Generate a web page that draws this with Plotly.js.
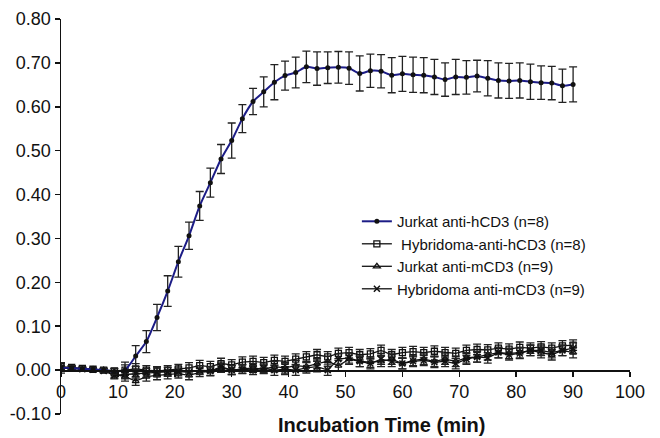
<!DOCTYPE html>
<html>
<head>
<meta charset="utf-8">
<script src="https://cdn.plot.ly/plotly-3.0.1.min.js"></script>
<style>html,body{margin:0;padding:0;background:#fff;}#chart{width:660px;height:438px;}</style>
</head>
<body>
<div id="chart"></div>
<script>
// time points (min), every 1.875 min from 0 to 90
const time = [0,1.875,3.75,5.625,7.5,9.375,11.25,13.125,15,16.875,18.75,20.625,22.5,24.375,26.25,28.125,30,31.875,33.75,35.625,37.5,39.375,41.25,43.125,45,46.875,48.75,50.625,52.5,54.375,56.25,58.125,60,61.875,63.75,65.625,67.5,69.375,71.25,73.125,75,76.875,78.75,80.625,82.5,84.375,86.25,88.125,90];

const seriesNames = ["Jurkat anti-hCD3 (n=8)", " Hybridoma-anti-hCD3 (n=8)", "Jurkat anti-mCD3 (n=9)", "Hybridoma anti-mCD3 (n=9)"];

const jurkatH = [0.005,0.005,0.003,0.002,0.000,-0.003,0.000,0.032,0.065,0.120,0.180,0.247,0.306,0.374,0.427,0.481,0.523,0.573,0.612,0.634,0.656,0.671,0.678,0.691,0.687,0.689,0.690,0.688,0.676,0.682,0.681,0.672,0.675,0.673,0.672,0.668,0.662,0.668,0.667,0.670,0.665,0.660,0.659,0.660,0.657,0.655,0.654,0.648,0.651];
const jurkatHErr = [0.012,0.005,0.004,0.004,0.004,0.006,0.018,0.024,0.025,0.030,0.035,0.035,0.031,0.033,0.033,0.033,0.040,0.032,0.030,0.034,0.040,0.033,0.035,0.036,0.038,0.036,0.036,0.037,0.040,0.038,0.038,0.040,0.040,0.040,0.040,0.040,0.038,0.040,0.038,0.036,0.040,0.040,0.040,0.040,0.040,0.038,0.038,0.038,0.040];

const hybH = [0.008,0.006,0.004,0.002,0.000,-0.002,0.000,0.003,0.000,-0.002,0.000,0.003,0.005,0.010,0.008,0.015,0.012,0.018,0.020,0.017,0.022,0.020,0.025,0.030,0.035,0.030,0.038,0.040,0.035,0.037,0.045,0.035,0.040,0.042,0.040,0.043,0.040,0.038,0.045,0.047,0.046,0.050,0.048,0.052,0.050,0.053,0.050,0.055,0.057];
const hybHErr = [0.006,0.004,0.003,0.003,0.004,0.006,0.012,0.012,0.010,0.010,0.010,0.010,0.012,0.012,0.012,0.012,0.012,0.012,0.012,0.012,0.012,0.012,0.012,0.012,0.012,0.012,0.012,0.012,0.012,0.012,0.012,0.012,0.012,0.012,0.012,0.012,0.012,0.012,0.012,0.012,0.012,0.012,0.012,0.012,0.012,0.012,0.012,0.012,0.012];

const jurkatM = [0.005,0.004,0.002,0.001,0.000,-0.010,-0.015,-0.025,-0.015,-0.012,-0.010,-0.008,-0.012,-0.005,-0.003,0.005,0.000,0.003,0.005,0.002,0.008,0.005,0.010,0.008,0.015,0.020,0.010,0.025,0.020,0.018,0.020,0.025,0.015,0.022,0.025,0.020,0.025,0.020,0.028,0.030,0.035,0.040,0.038,0.040,0.045,0.040,0.035,0.045,0.040];
const jurkatMErr = [0.005,0.004,0.003,0.003,0.004,0.008,0.010,0.010,0.010,0.010,0.010,0.010,0.010,0.010,0.010,0.010,0.010,0.010,0.010,0.010,0.012,0.012,0.012,0.012,0.012,0.012,0.012,0.012,0.012,0.012,0.012,0.012,0.012,0.012,0.012,0.012,0.012,0.012,0.012,0.012,0.012,0.012,0.012,0.012,0.012,0.012,0.012,0.012,0.012];

const hybM = [0.005,0.004,0.002,0.001,-0.002,-0.012,-0.010,-0.008,-0.006,-0.005,-0.004,-0.003,-0.005,0.000,-0.002,0.008,0.000,0.002,0.000,0.004,0.000,0.002,0.000,0.005,0.008,0.000,0.025,0.028,0.020,0.015,0.025,0.020,0.015,0.020,0.022,0.018,0.020,0.015,0.025,0.030,0.028,0.040,0.035,0.038,0.045,0.045,0.040,0.045,0.050];
const hybMErr = [0.005,0.004,0.003,0.003,0.004,0.008,0.010,0.010,0.010,0.010,0.010,0.010,0.010,0.010,0.010,0.010,0.010,0.010,0.010,0.010,0.012,0.012,0.012,0.012,0.012,0.012,0.012,0.012,0.012,0.012,0.012,0.012,0.012,0.012,0.012,0.012,0.012,0.012,0.012,0.012,0.012,0.012,0.012,0.012,0.012,0.012,0.012,0.012,0.012];

const xTicks = [0,10,20,30,40,50,60,70,80,90,100];
const yTicks = [-0.1,0,0.1,0.2,0.3,0.4,0.5,0.6,0.7,0.8];
const yTickText = ['-0.10','0.00','0.10','0.20','0.30','0.40','0.50','0.60','0.70','0.80'];

function errBar(arr){ return {type:'data', array:arr, visible:true, color:'#222', thickness:1.3, width:4}; }

const traces = [
  {x:time, y:hybH, name:seriesNames[1], legendrank:2, mode:'lines+markers',
   line:{color:'#111', width:1.3},
   marker:{symbol:'square-open', size:6, color:'#111', line:{width:1.3}},
   error_y:errBar(hybHErr)},
  {x:time, y:jurkatM, name:seriesNames[2], legendrank:3, mode:'lines+markers',
   line:{color:'#111', width:1.3},
   marker:{symbol:'triangle-up-open', size:6, color:'#111', line:{width:1.3}},
   error_y:errBar(jurkatMErr)},
  {x:time, y:hybM, name:seriesNames[3], legendrank:4, mode:'lines+markers',
   line:{color:'#111', width:1.3},
   marker:{symbol:'x-thin', size:6, color:'#111', line:{width:1.5, color:'#111'}},
   error_y:errBar(hybMErr)},
  {x:time, y:jurkatH, name:seriesNames[0], legendrank:1, mode:'lines+markers',
   line:{color:'#1c1c86', width:2, shape:'spline', smoothing:0.6},
   marker:{symbol:'circle', size:5, color:'#111'},
   error_y:errBar(jurkatHErr)}
];

const layout = {
  width:660, height:438,
  margin:{l:61, r:30, t:19, b:24},
  paper_bgcolor:'#fff', plot_bgcolor:'#fff',
  font:{family:'"Liberation Sans", Arial, Helvetica, sans-serif', color:'#111'},
  showlegend:true,
  legend:{x:0.52, y:0.529, xanchor:'left', yanchor:'top', bgcolor:'rgba(0,0,0,0)',
          font:{size:15, color:'#111'}, tracegroupgap:0, itemwidth:30},
  xaxis:{range:[0,100], tickvals:xTicks, ticktext:xTicks.map(String),
         anchor:'free', position:0.1111, showline:true, linecolor:'#111', linewidth:1.5,
         ticks:'outside', ticklen:5, tickwidth:1.5, tickcolor:'#111',
         showgrid:false, zeroline:false, tickfont:{size:18}},
  yaxis:{range:[-0.1,0.8], tickvals:yTicks, ticktext:yTickText,
         showline:true, linecolor:'#111', linewidth:1.5, ticks:'outside', ticklen:5, tickwidth:1.5, tickcolor:'#111',
         showgrid:false, zeroline:false, tickfont:{size:18}, domain:[0,1]},
  annotations:[{text:'<b>Incubation Time (min)</b>', xref:'paper', yref:'paper', x:0.563, y:-0.028, xanchor:'center', yanchor:'middle',
                showarrow:false, font:{size:20, color:'#111'}}]
};

Plotly.newPlot('chart', traces, layout, {staticPlot:true, displayModeBar:false});
</script>
</body>
</html>
